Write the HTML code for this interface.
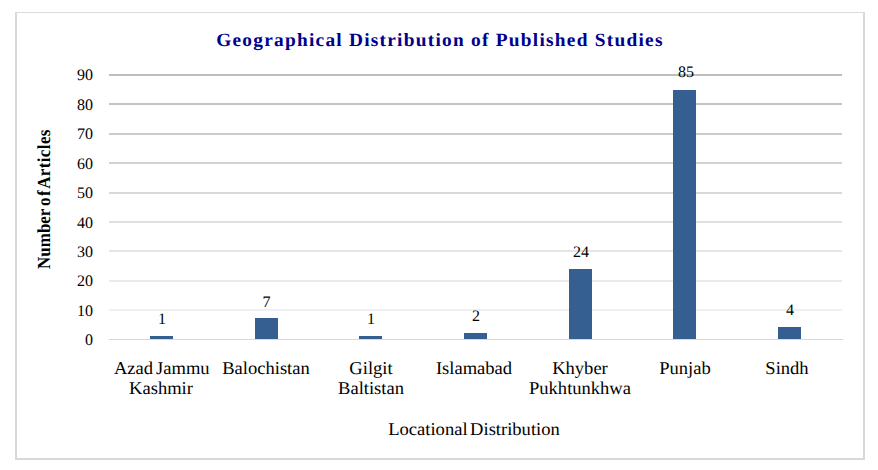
<!DOCTYPE html>
<html>
<head>
<meta charset="utf-8">
<title>Geographical Distribution of Published Studies</title>
<style>
  html, body { margin: 0; padding: 0; background: #ffffff; }
  body { width: 878px; height: 470px; position: relative; overflow: hidden;
         font-family: "Liberation Serif", serif; color: #000000;
         text-rendering: geometricPrecision; }
  .abs { position: absolute; }
  #frame { left: 15px; top: 12px; width: 846px; height: 445px;
           border-style: solid; border-color: #dcdcdc #d8d8d8 #d8d8d8 #d8d8d8;
           border-width: 1px 2px 2px 2px; background: #fff; }
  #title { left: 0; top: 29px; width: 878px; text-align: center;
           font-weight: bold; font-size: 18.67px; line-height: 24px;
           letter-spacing: 1.2px; color: #00008b; white-space: nowrap;
           transform: scaleX(1.037); transform-origin: 440.5px 50%; margin-left: 1px; }
  .grid { left: 109px; width: 733px; height: 2px; }
  #axis { left: 109px; width: 734px; height: 1px; top: 339px; background: #d8d8d8; }
  .bar { background: #365f91; width: 23px; }
  .ytick { left: 40px; width: 53px; text-align: right; font-size: 16px; line-height: 18px; height: 18px; }
  .dl { width: 60px; text-align: center; font-size: 16px; line-height: 18px; height: 18px; }
  .cat { width: 130px; text-align: center; font-size: 18px; line-height: 20px; top: 358px;
         transform: scaleX(1.03); transform-origin: 50% 50%; white-space: nowrap; }
  #xtitle { left: 274px; width: 400px; top: 418.2px; text-align: center; font-size: 18px; line-height: 22px; white-space: nowrap;
           word-spacing: -2px; transform: scaleX(1.03); transform-origin: 50% 50%; }
  #ytitle { left: 33px; top: 268.7px; width: 0; height: 0; }
  #ytitle span { position: absolute; left: 0; top: 0; height: 22px; line-height: 22px;
                 font-weight: bold; font-size: 18.4px; white-space: nowrap; word-spacing: -2.5px;
                 transform: rotate(-90deg) scaleX(0.924); transform-origin: 0 0; display: block; }
</style>
</head>
<body>
<div id="frame" class="abs"></div>

<div id="title" class="abs">Geographical Distribution of Published Studies</div>

<!-- gridlines -->
<div class="abs grid" style="top:74px;background:#bebebe"></div>
<div class="abs grid" style="top:103px;background:#c4c4c4"></div>
<div class="abs grid" style="top:133px;background:#cbcbcb"></div>
<div class="abs grid" style="top:162px;background:#d2d2d2"></div>
<div class="abs grid" style="top:192px;background:#d9d9d9"></div>
<div class="abs grid" style="top:221px;background:#dfdfdf"></div>
<div class="abs grid" style="top:250px;background:#e5e5e5"></div>
<div class="abs grid" style="top:280px;background:#ebebeb"></div>
<div class="abs grid" style="top:309px;background:#f0f0f0"></div>
<div id="axis" class="abs"></div>

<!-- y tick labels -->
<div class="abs ytick" style="top:67px">90</div>
<div class="abs ytick" style="top:97px">80</div>
<div class="abs ytick" style="top:126px">70</div>
<div class="abs ytick" style="top:156px">60</div>
<div class="abs ytick" style="top:185px">50</div>
<div class="abs ytick" style="top:215px">40</div>
<div class="abs ytick" style="top:244px">30</div>
<div class="abs ytick" style="top:273px">20</div>
<div class="abs ytick" style="top:303px">10</div>
<div class="abs ytick" style="top:332px">0</div>

<!-- bars -->
<div class="abs bar" style="left:150px;top:336px;height:3px"></div>
<div class="abs bar" style="left:255px;top:318px;height:21px"></div>
<div class="abs bar" style="left:359px;top:336px;height:3px"></div>
<div class="abs bar" style="left:464px;top:333px;height:6px"></div>
<div class="abs bar" style="left:569px;top:269px;height:70px"></div>
<div class="abs bar" style="left:673px;top:90px;height:249px"></div>
<div class="abs bar" style="left:778px;top:327px;height:12px"></div>

<!-- data labels -->
<div class="abs dl" style="left:132px;top:311px">1</div>
<div class="abs dl" style="left:236.5px;top:294px">7</div>
<div class="abs dl" style="left:341px;top:311px">1</div>
<div class="abs dl" style="left:446px;top:308px">2</div>
<div class="abs dl" style="left:551px;top:244px">24</div>
<div class="abs dl" style="left:656px;top:64px">85</div>
<div class="abs dl" style="left:760px;top:302px">4</div>

<!-- category labels -->
<div class="abs cat" style="left:96px"><span style="word-spacing:-1.5px;margin-left:1.5px">Azad Jammu</span><br>Kashmir</div>
<div class="abs cat" style="left:201px">Balochistan</div>
<div class="abs cat" style="left:306px">Gilgit<br>Baltistan</div>
<div class="abs cat" style="left:408.5px">Islamabad</div>
<div class="abs cat" style="left:515px">Khyber<br>Pukhtunkhwa</div>
<div class="abs cat" style="left:620px">Punjab</div>
<div class="abs cat" style="left:721.5px">Sindh</div>

<div id="xtitle" class="abs">Locational Distribution</div>
<div id="ytitle" class="abs"><span>Number <i style="font-style:normal;letter-spacing:1.6px;margin-left:1px">o</i>f <b style="letter-spacing:0.4px;margin-left:-0.4px">Articles</b></span></div>
</body>
</html>
